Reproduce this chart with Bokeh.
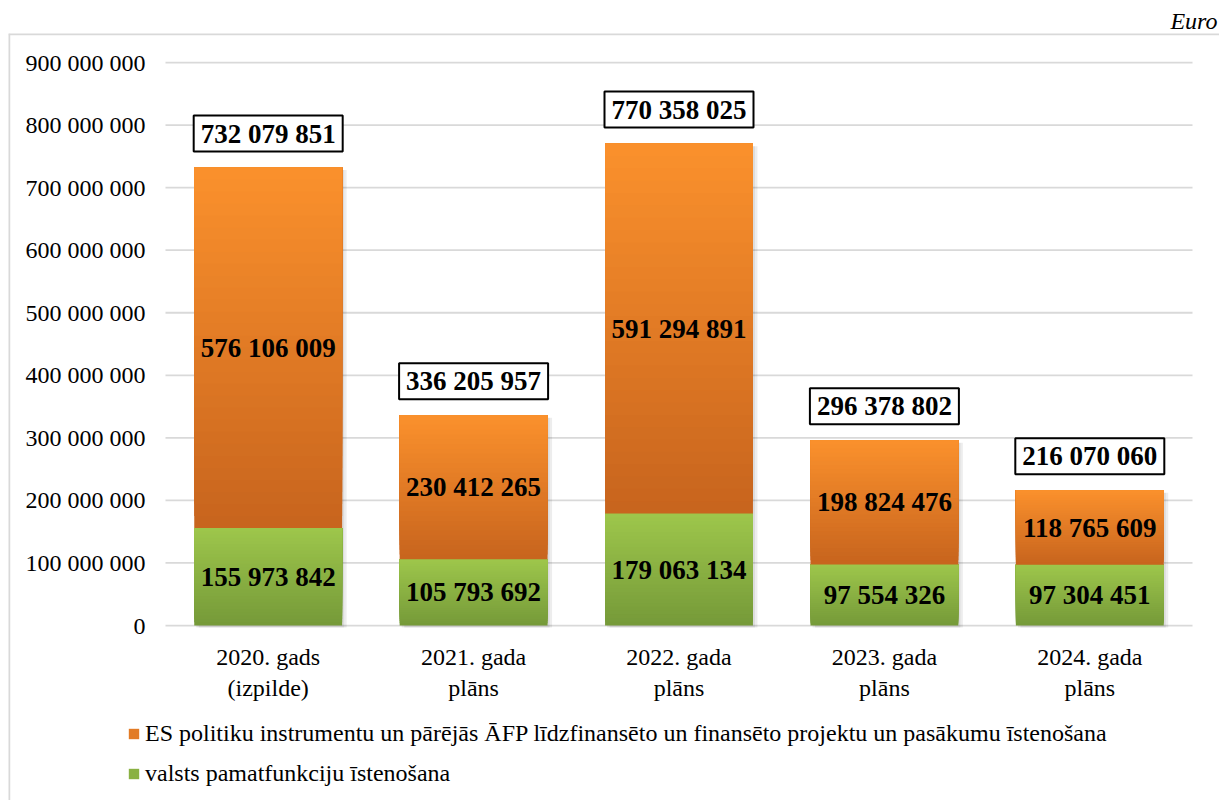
from bokeh.plotting import figure
from bokeh.models import (ColumnDataSource, LabelSet, Legend, LegendItem,
                          FixedTicker, Range1d, Text)
from bokeh.transform import dodge
from bokeh.core.properties import value
from bokeh.embed import file_html
from bokeh.resources import INLINE

# ---------------- data ----------------
categories = ["2020. gads\n(izpilde)", "2021. gada\nplāns", "2022. gada\nplāns",
              "2023. gada\nplāns", "2024. gada\nplāns"]
pamatfunkcijas = [155973842, 105793692, 179063134, 97554326, 97304451]
es_projekti = [576106009, 230412265, 591294891, 198824476, 118765609]
kopa = [732079851, 336205957, 770358025, 296378802, 216070060]
y_ticks = [0, 100000000, 200000000, 300000000, 400000000, 500000000,
           600000000, 700000000, 800000000, 900000000]
y_tick_labels = ["0", "100 000 000", "200 000 000", "300 000 000", "400 000 000",
                 "500 000 000", "600 000 000", "700 000 000", "800 000 000", "900 000 000"]
legend_labels = ["ES politiku instrumentu un pārējās ĀFP līdzfinansēto un finansēto projektu un pasākumu īstenošana",
                 "valsts pamatfunkciju īstenošana"]
unit_label = "Euro"

FONT = "Liberation Serif"
REG = "24px"
BOLD = "27px"
GRID = "#d9d9d9"


def fmt(v):
    return f"{v:,}".replace(",", " ")


def mix(c1, c2, t):
    a = [int(c1[i:i + 2], 16) for i in (1, 3, 5)]
    b = [int(c2[i:i + 2], 16) for i in (1, 3, 5)]
    return "#" + "".join(f"{round(x + (y - x) * t):02x}" for x, y in zip(a, b))


xpos = list(range(len(categories)))
band_lo, band_hi = -0.5, len(categories) - 0.5

xr = Range1d(-1.2643, 4.6314)
yr = Range1d(-279700000, 946400000)

# the frame is the chart-area box; the value axes sit inside it
p = figure(x_range=xr, y_range=yr,
           width=1219, height=800, output_backend="svg", toolbar_location=None,
           min_border_left=8, min_border_right=0, min_border_top=33, min_border_bottom=0)
p.outline_line_color = None
p.background_fill_color = "white"
p.border_fill_color = "white"
p.grid.visible = False

# chart-area border: left and top edges of the box
border_src = ColumnDataSource(dict(x0=[xr.start, xr.start], y0=[yr.start, yr.end],
                                   x1=[xr.start, xr.end], y1=[yr.end, yr.end]))
p.segment(x0="x0", y0="y0", x1="x1", y1="y1", source=border_src,
          line_color=GRID, line_width=3.5)

# unit label (top right, italic)
p.title.text = unit_label
p.title.align = "right"
p.title.offset = 2
p.title.standoff = 0
p.title.text_font = FONT
p.title.text_font_size = REG
p.title.text_font_style = "italic"
p.title.text_color = "black"

# axes drawn at fixed positions inside the frame
p.yaxis.ticker = FixedTicker(ticks=y_ticks)
p.yaxis.major_label_overrides = {t: l for t, l in zip(y_ticks, y_tick_labels)}
p.yaxis.fixed_location = band_lo
p.xaxis.ticker = FixedTicker(ticks=xpos)
p.xaxis.major_label_overrides = {i: c for i, c in zip(xpos, categories)}
p.xaxis.fixed_location = 0
for ax in (p.xaxis, p.yaxis):
    ax.axis_line_color = None
    ax.major_tick_line_color = None
    ax.minor_tick_line_color = None
    ax.major_tick_out = 0
    ax.major_tick_in = 0
    ax.minor_tick_out = 0
    ax.minor_tick_in = 0
    ax.major_label_text_font = FONT
    ax.major_label_text_font_size = REG
    ax.major_label_text_color = "black"
p.yaxis.major_label_standoff = 20
p.xaxis.major_label_standoff = 18

# horizontal gridlines across the category bands
grid_src = ColumnDataSource(dict(y=y_ticks, x0=[band_lo] * len(y_ticks), x1=[band_hi] * len(y_ticks)))
p.segment(x0="x0", x1="x1", y0="y", y1="y", source=grid_src, line_color=GRID, line_width=1.8)

BW = 0.72

# soft shadows
shadow_src = ColumnDataSource(dict(x=xpos, top=[v - 4000000 for v in kopa]))
for off in (0.01, 0.022):
    p.vbar(x=dodge("x", off), top="top", bottom=-3000000, width=BW,
           source=shadow_src, fill_color="black", fill_alpha=0.07, line_color=None)

N = 30


def gradient(bottoms, tops, c_bottom, c_top):
    rs = []
    for k in range(N):
        col = mix(c_bottom, c_top, k / (N - 1))
        b = [bo + (to - bo) * k / N for bo, to in zip(bottoms, tops)]
        src = ColumnDataSource(dict(x=xpos, bottom=b, top=tops))
        rs.append(p.vbar(x="x", bottom="bottom", top="top", width=BW, source=src,
                         fill_color=col, line_color=None))
    return rs


green_rs = gradient([0] * len(xpos), pamatfunkcijas, "#769a39", "#9dc64b")
orange_rs = gradient(pamatfunkcijas, kopa, "#c8651e", "#fa902c")

# segment labels
seg_src = ColumnDataSource(dict(
    x=xpos,
    g_mid=[v / 2 for v in pamatfunkcijas],
    o_mid=[g + o / 2 for g, o in zip(pamatfunkcijas, es_projekti)],
    g_txt=[fmt(v) for v in pamatfunkcijas],
    o_txt=[fmt(v) for v in es_projekti],
    tot=kopa,
    t_txt=[fmt(v) for v in kopa],
))
for ycol, tcol in (("g_mid", "g_txt"), ("o_mid", "o_txt")):
    p.add_layout(LabelSet(x="x", y=ycol, text=tcol, source=seg_src,
                          text_align="center", text_baseline="middle",
                          text_font=value(FONT), text_font_size=BOLD,
                          text_font_style="bold", text_color="black"))

# totals in boxes
tprops = Text.properties()
if "padding" in tprops and "border_line_color" in tprops:
    p.text(x="x", y="tot", text="t_txt", source=seg_src, y_offset=-34,
           text_align="center", text_baseline="middle",
           text_font=value(FONT), text_font_size=BOLD, text_font_style="bold",
           text_color="black", background_fill_color="white",
           border_line_color="black", border_line_width=2, padding=(7, 3))
else:
    p.add_layout(LabelSet(x="x", y="tot", text="t_txt", source=seg_src, y_offset=34,
                          text_align="center", text_baseline="middle",
                          text_font=value(FONT), text_font_size=BOLD, text_font_style="bold",
                          text_color="black", background_fill_color="white",
                          border_line_color="black", border_line_width=2))

# legend inside the chart-area box, under the category labels
legend = Legend(items=[LegendItem(label=legend_labels[0], renderers=[orange_rs[N // 2]]),
                       LegendItem(label=legend_labels[1], renderers=[green_rs[N // 2]])],
                location=(119, 13), orientation="vertical",
                glyph_width=13, glyph_height=13, label_standoff=5, spacing=13,
                label_height=27, padding=0, margin=0, border_line_color=None,
                background_fill_alpha=0,
                label_text_font=FONT, label_text_font_size=REG, label_text_color="black")
p.add_layout(legend, "center")

open("out.html", "w").write(file_html(p, INLINE))
